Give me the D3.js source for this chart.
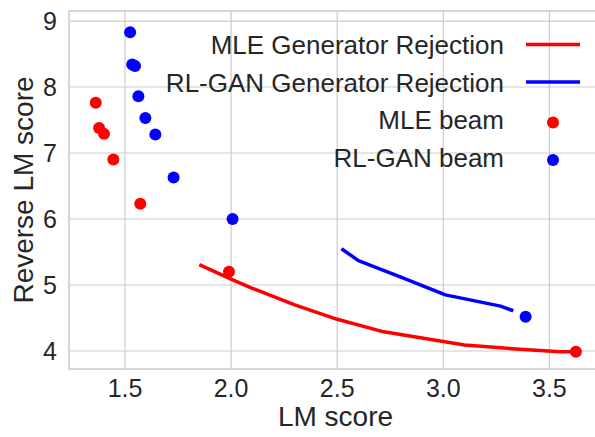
<!doctype html>
<html lang=en>

<head>
  <meta charset=utf-8>
  <title>LM score vs Reverse LM score</title>
  <style>
    body { margin: 0; background: white; }
    svg { display: block; font-family: "Liberation Sans", Arial, sans-serif; }
  </style>
</head>

<body>
  <svg></svg>
  <script src="https://d3js.org/d3.v7.min.js"></script>
  <script>
    var width = 595;
    var height = 437;

    // generator rejection curves
    var mleRejX = [1.85, 2.0, 2.1, 2.3, 2.5, 2.72, 3.1, 3.3, 3.55, 3.62];
    var mleRejY = [5.31, 5.09, 4.95, 4.70, 4.48, 4.29, 4.09, 4.04, 3.99, 3.99];
    var ganRejX = [2.52, 2.60, 2.80, 3.01, 3.27, 3.33];
    var ganRejY = [5.55, 5.37, 5.12, 4.85, 4.68, 4.61];

    // beam search points
    var mleBeamX = [1.362, 1.378, 1.401, 1.445, 1.572, 1.99, 3.625];
    var mleBeamY = [7.76, 7.38, 7.29, 6.90, 6.23, 5.20, 3.99];
    var ganBeamX = [1.524, 1.534, 1.547, 1.563, 1.596, 1.643, 1.729, 2.007, 3.388];
    var ganBeamY = [8.83, 8.34, 8.32, 7.86, 7.53, 7.28, 6.63, 6.00, 4.52];

    var xTicks = [1.5, 2.0, 2.5, 3.0, 3.5];
    var yTicks = [4, 5, 6, 7, 8, 9];

    var legendNames = ["MLE Generator Rejection", "RL-GAN Generator Rejection", "MLE beam", "RL-GAN beam"];

    var plotLeft = 69, plotRight = 602, plotTop = 11, plotBottom = 369;
    var grid = "#cccccc";
    var ink = "#262626";

    var svg = d3.select("svg")
      .attr("width", width)
      .attr("height", height);

    var x = d3.scaleLinear().domain([1.236, 3.748]).range([plotLeft, plotRight]);
    var y = d3.scaleLinear().domain([3.727, 9.152]).range([plotBottom, plotTop]);

    // grid
    svg.append("g").selectAll("line").data(xTicks).join("line")
      .attr("x1", d => x(d)).attr("x2", d => x(d))
      .attr("y1", plotTop).attr("y2", plotBottom)
      .attr("stroke", grid).attr("stroke-width", 1.2);
    svg.append("g").selectAll("line").data(yTicks).join("line")
      .attr("x1", plotLeft).attr("x2", plotRight)
      .attr("y1", d => y(d)).attr("y2", d => y(d))
      .attr("stroke", grid).attr("stroke-width", 1.2);

    // frame
    svg.append("rect")
      .attr("x", plotLeft).attr("y", plotTop)
      .attr("width", plotRight - plotLeft).attr("height", plotBottom - plotTop)
      .attr("fill", "none").attr("stroke", grid).attr("stroke-width", 1.5);

    // tick labels
    svg.append("g").selectAll("text").data(xTicks).join("text")
      .attr("x", d => x(d)).attr("y", 397)
      .attr("text-anchor", "middle")
      .attr("font-size", 25).attr("fill", ink)
      .text(d => d.toFixed(1));
    svg.append("g").selectAll("text").data(yTicks).join("text")
      .attr("x", 57).attr("y", d => y(d) + 9)
      .attr("text-anchor", "end")
      .attr("font-size", 25).attr("fill", ink)
      .text(d => d);

    // axis labels
    svg.append("text")
      .attr("x", (plotLeft + plotRight) / 2).attr("y", 426)
      .attr("text-anchor", "middle")
      .attr("font-size", 28).attr("fill", ink)
      .text("LM score");
    svg.append("text")
      .attr("transform", "translate(33," + ((plotTop + plotBottom) / 2) + ") rotate(-90)")
      .attr("text-anchor", "middle")
      .attr("font-size", 28).attr("fill", ink)
      .text("Reverse LM score");

    var line = d3.line()
      .x(d => x(d[0]))
      .y(d => y(d[1]));

    var plot = svg.append("g");

    plot.append("path")
      .datum(d3.zip(mleRejX, mleRejY))
      .attr("d", line)
      .attr("fill", "none").attr("stroke", "red")
      .attr("stroke-width", 3.5).attr("stroke-linejoin", "round");
    plot.append("path")
      .datum(d3.zip(ganRejX, ganRejY))
      .attr("d", line)
      .attr("fill", "none").attr("stroke", "blue")
      .attr("stroke-width", 3.5).attr("stroke-linejoin", "round");

    plot.append("g").selectAll("circle").data(d3.zip(mleBeamX, mleBeamY)).join("circle")
      .attr("cx", d => x(d[0])).attr("cy", d => y(d[1]))
      .attr("r", 6).attr("fill", "red");
    plot.append("g").selectAll("circle").data(d3.zip(ganBeamX, ganBeamY)).join("circle")
      .attr("cx", d => x(d[0])).attr("cy", d => y(d[1]))
      .attr("r", 6).attr("fill", "blue");

    // legend, no frame, labels on the left
    var legendColors = ["red", "blue", "red", "blue"];
    var legend = svg.append("g");
    legendNames.forEach(function (name, i) {
      var base = 54 + i * 37.5;
      legend.append("text")
        .attr("x", 504).attr("y", base)
        .attr("text-anchor", "end")
        .attr("font-size", 26).attr("fill", ink)
        .text(name);
      if (i < 2) {
        legend.append("line")
          .attr("x1", 526).attr("x2", 580)
          .attr("y1", base - 9.5).attr("y2", base - 9.5)
          .attr("stroke", legendColors[i]).attr("stroke-width", 3.5);
      } else {
        legend.append("circle")
          .attr("cx", 553).attr("cy", base - 6.5)
          .attr("r", 6).attr("fill", legendColors[i]);
      }
    });
  </script>
</body>

</html>
